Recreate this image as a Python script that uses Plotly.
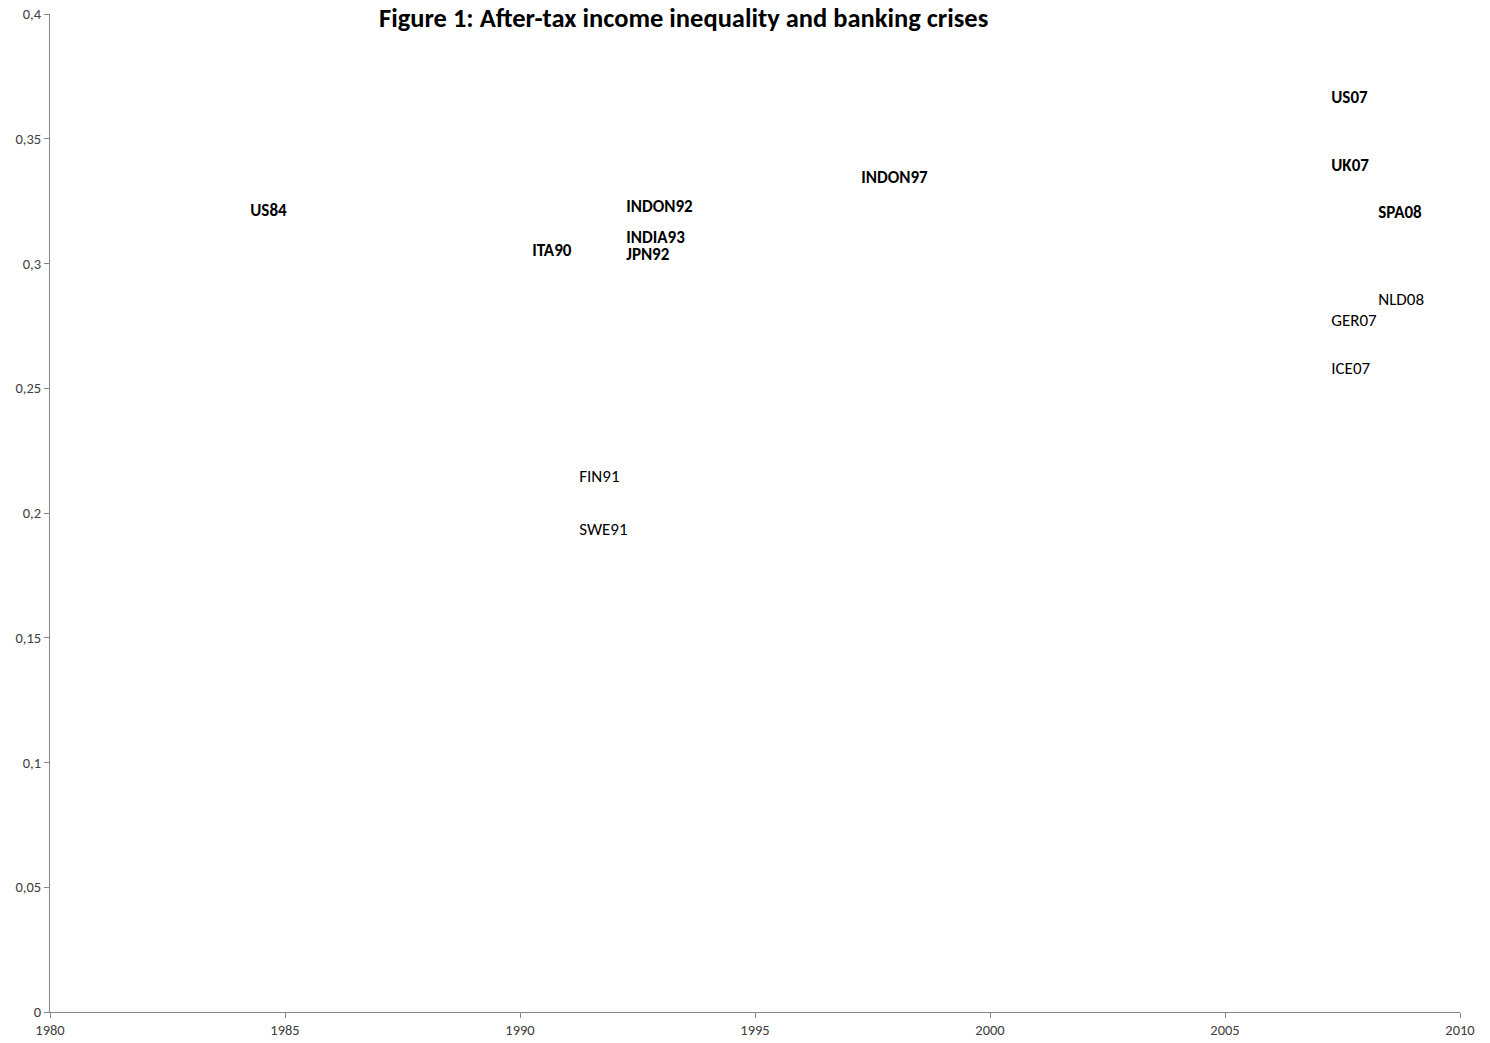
import plotly.graph_objects as go

# Bold-labelled crises (high inequality)
bold_labels = ["US84", "ITA90", "INDON92", "INDIA93", "JPN92", "INDON97", "US07", "UK07", "SPA08"]
bold_years = [1984, 1990, 1992, 1992, 1992, 1997, 2007, 2007, 2008]
bold_gini = [0.3206, 0.3046, 0.3222, 0.3098, 0.3030, 0.3339, 0.3659, 0.3387, 0.3198]

# Normal-labelled crises
norm_labels = ["FIN91", "SWE91", "NLD08", "GER07", "ICE07"]
norm_years = [1991, 1991, 2008, 2007, 2007]
norm_gini = [0.2140, 0.1928, 0.2850, 0.2766, 0.2573]

x_ticks = [1980, 1985, 1990, 1995, 2000, 2005, 2010]
y_ticks = [0, 0.05, 0.1, 0.15, 0.2, 0.25, 0.3, 0.35, 0.4]

FONT = "Carlito, Lato, 'Open Sans', sans-serif"

fig = go.Figure()
fig.add_trace(go.Scatter(
    x=bold_years, y=bold_gini, text=bold_labels, mode="markers+text",
    marker=dict(size=18, opacity=0),
    textposition="middle right",
    textfont=dict(family=FONT, size=17, color="#000000", weight="bold"),
    showlegend=False, hoverinfo="skip",
))
fig.add_trace(go.Scatter(
    x=norm_years, y=norm_gini, text=norm_labels, mode="markers+text",
    marker=dict(size=18, opacity=0),
    textposition="middle right",
    textfont=dict(family=FONT, size=17, color="#000000"),
    showlegend=False, hoverinfo="skip",
))

fig.update_layout(
    width=1482, height=1035,
    margin=dict(l=42, r=30, t=6, b=31),
    paper_bgcolor="white", plot_bgcolor="white",
    separators=", ",
    font=dict(family=FONT, color="#404040"),
    annotations=[dict(
        text="<b>Figure 1: After-tax income inequality and banking crises</b>",
        x=0.4496, y=0.996, xref="paper", yref="paper",
        xanchor="center", yanchor="middle", showarrow=False,
        font=dict(family=FONT, size=26.5, color="#000000"),
    )],
)
fig.update_xaxes(
    range=[1980, 2010], tickvals=x_ticks, ticks="outside", ticklen=5,
    tickcolor="#868686", showline=True, linecolor="#868686", linewidth=1,
    showgrid=False, zeroline=False, automargin=False,
    ticklabeloverflow="allow",
    tickfont=dict(size=14.5, color="#404040"),
)
fig.update_yaxes(
    range=[0, 0.4], tickvals=y_ticks, ticks="outside", ticklen=5,
    tickcolor="#868686", showline=True, linecolor="#868686", linewidth=1,
    showgrid=False, zeroline=False, automargin=False,
    ticklabeloverflow="allow",
    tickfont=dict(size=14.5, color="#404040"),
)

fig.write_html("out.html")
